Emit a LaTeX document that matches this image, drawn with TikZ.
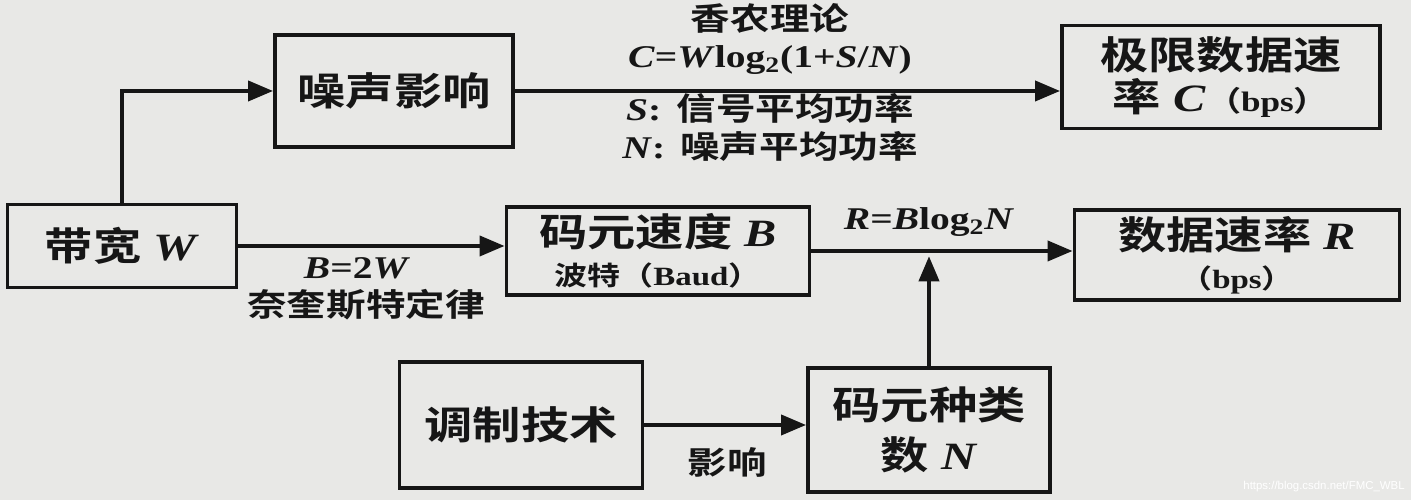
\documentclass[tikz,border=0pt]{standalone}
\usepackage{fontspec}
\setmainfont{Liberation Serif}[FakeStretch=1.25]
\newfontfamily\cjk{Noto Sans CJK SC}[BoldFont={Noto Sans CJK SC Bold},FakeStretch=1.25]
\newfontfamily\marque{Liberation Sans}
\usetikzlibrary{arrows.meta}
\definecolor{fond}{RGB}{232,232,230}
\definecolor{encre}{RGB}{22,22,22}
\newcommand{\gi}[1]{\textbf{\textit{#1}}}
\newcommand{\zh}[1]{{\cjk\bfseries #1}}

\begin{document}
\begin{tikzpicture}
\tikzset{boite/.style={draw=encre, line width=2.2pt, rectangle, align=center, inner sep=0pt, text=encre},
fleche/.style={draw=encre, line width=2.2pt, -{Triangle[length=0.5cm,width=0.4cm]}},
grand/.style={font=\fontsize{22}{26}\selectfont},
petit/.style={font=\fontsize{18}{22}\selectfont, text=encre}}
\useasboundingbox (0,0) rectangle (28.22,10);
\fill[fond] (0,0) rectangle (28.22,10);
\node[boite, grand, minimum width=4.76cm, minimum height=2.24cm] (noise) at (7.88,8.18) {\zh{噪声影响}};
\node[boite, grand, minimum width=6.36cm, minimum height=2.06cm] (limit) at (24.42,8.46) {\zh{极限数据速}\\[-2pt]\zh{率} \gi{C}{\fontsize{16}{18}\selectfont\zh{（}\textbf{bps}\zh{）}}};
\node[boite, grand, minimum width=4.58cm, minimum height=1.66cm] (band) at (2.44,5.08) {\zh{带宽} \gi{W}};
\node[boite, grand, minimum width=6.06cm, minimum height=1.76cm] (baud) at (13.16,4.98) {\zh{码元速度} \gi{B}\\[-4pt]{\fontsize{15}{18}\selectfont\zh{波特（}\textbf{Baud}\zh{）}}};
\node[boite, grand, minimum width=6.5cm, minimum height=1.8cm] (rate) at (24.74,4.9) {\zh{数据速率} \gi{R}\\[-4pt]{\fontsize{15}{18}\selectfont\zh{（}\textbf{bps}\zh{）}}};
\node[boite, grand, minimum width=4.86cm, minimum height=2.52cm] (modul) at (10.42,1.5) {\zh{调制技术}};
\node[boite, grand, minimum width=4.84cm, minimum height=2.48cm] (kinds) at (18.58,1.4) {\zh{码元种类}\\[2pt]\zh{数} \gi{N}};
% liaisons
\draw[fleche] (band.north) |- (noise.west);
\draw[fleche] (noise.east) -- (noise.east -| limit.west);
\draw[fleche] (band.east) -- (band.east -| baud.west);
\draw[fleche] (baud.east) -- (baud.east -| rate.west);
\coordinate (jonction) at (kinds.north |- baud.east);
\draw[fleche] (kinds.north) -- ([yshift=-3pt]jonction);
\draw[fleche] (modul.east) -- (modul.east -| kinds.west);
% textes
\node[petit] (shannon) at (15.4,9.64) {\zh{香农理论}};
\node[petit] (formule) at (15.4,8.8) {\gi{C}\textbf{=}\gi{W}\textbf{log\textsubscript{2}(1+}\gi{S}\textbf{/}\gi{N}\textbf{)}};
\node[petit] (sdef) at (15.4,7.84) {\gi{S}\textbf{:}\, \zh{信号平均功率}};
\node[petit] (ndef) at (15.4,7.08) {\gi{N}\textbf{:}\, \zh{噪声平均功率}};
\node[petit] (nyq1) at (7.14,4.64) {\gi{B}\textbf{=2}\gi{W}};
\node[petit] (nyq2) at (7.32,3.9) {\zh{奈奎斯特定律}};
\node[petit] (rform) at (18.58,5.56) {\gi{R}\textbf{=}\gi{B}\textbf{log\textsubscript{2}}\gi{N}};
\node[petit] (effet) at (14.54,0.76) {\zh{影响}};
\node[font=\marque\fontsize{6.5}{7}\selectfont, text=white, anchor=east, inner sep=0pt] (source) at (28.1,0.26) {https://blog.csdn.net/FMC\_WBL};
\end{tikzpicture}
\end{document}
